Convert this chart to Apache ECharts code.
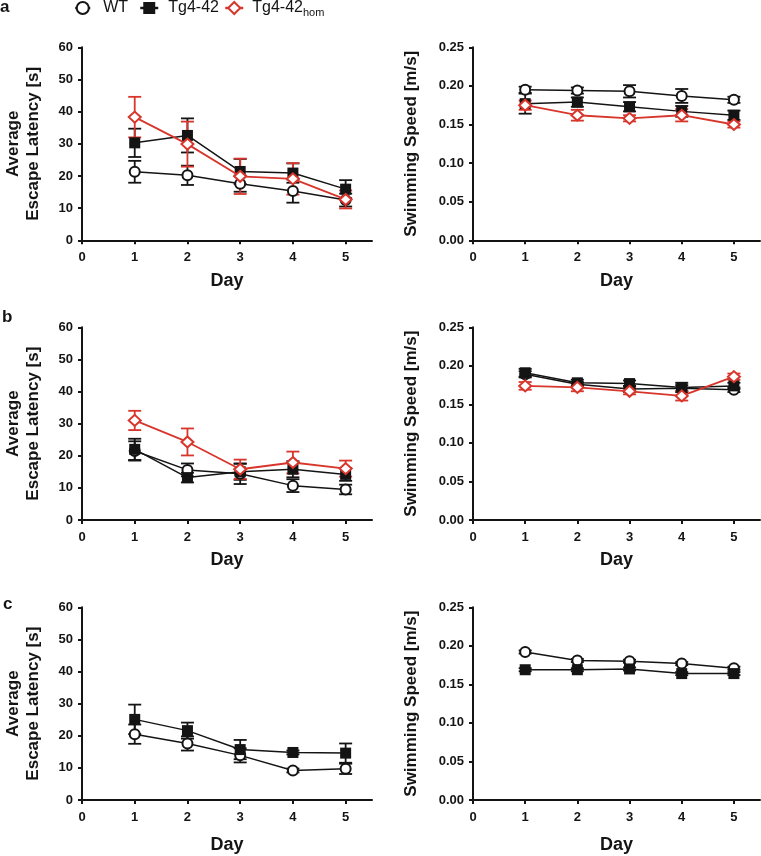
<!DOCTYPE html>
<html>
<head>
<meta charset="utf-8">
<script src="https://cdn.jsdelivr.net/npm/echarts@6/dist/echarts.min.js"></script>
<style>html,body{margin:0;padding:0;background:#fff;}#c{width:761px;height:856px;}</style>
</head>
<body>
<div id="c"></div>
<script>
// ---------- data ----------
const days = [1, 2, 3, 4, 5];
const xTicks = [0, 1, 2, 3, 4, 5];
const latTicks = [0, 10, 20, 30, 40, 50, 60];
const speedTicks = [0, 0.05, 0.10, 0.15, 0.20, 0.25];
const groupNames = ['WT', 'Tg4-42', 'Tg4-42hom'];

// panel a
const aLatWT = [21.3, 20.2, 17.6, 15.3, 12.5];
const aLatWTerr = [3.4, 3.0, 2.5, 3.6, 2.0];
const aLatTg = [30.3, 32.6, 21.4, 20.9, 15.9];
const aLatTgerr = [4.4, 5.3, 3.9, 3.0, 2.8];
const aLatHom = [38.3, 29.9, 19.9, 19.1, 12.7];
const aLatHomerr = [6.3, 7.0, 5.5, 4.9, 2.8];
const aSpdWT = [0.195, 0.194, 0.193, 0.187, 0.182];
const aSpdWTerr = [0.004, 0.004, 0.008, 0.009, 0.004];
const aSpdTg = [0.177, 0.179, 0.173, 0.167, 0.162];
const aSpdTgerr = [0.013, 0.006, 0.006, 0.007, 0.006];
const aSpdHom = [0.175, 0.162, 0.158, 0.162, 0.150];
const aSpdHomerr = [0.006, 0.007, 0.004, 0.008, 0.004];

// panel b
const bLatWT = [21.5, 15.6, 14.4, 10.7, 9.5];
const bLatWTerr = [3.0, 2.0, 3.2, 2.0, 1.5];
const bLatTg = [22.0, 13.2, 15.0, 15.8, 14.2];
const bLatTgerr = [3.3, 1.5, 2.5, 2.5, 2.0];
const bLatHom = [31.0, 24.3, 15.8, 17.9, 16.0];
const bLatHomerr = [3.0, 4.2, 3.0, 3.4, 2.5];
const bSpdWT = [0.189, 0.176, 0.170, 0.171, 0.169];
const bSpdWTerr = [0.004, 0.003, 0.004, 0.004, 0.003];
const bSpdTg = [0.191, 0.178, 0.177, 0.172, 0.174];
const bSpdTgerr = [0.005, 0.004, 0.004, 0.006, 0.004];
const bSpdHom = [0.174, 0.172, 0.167, 0.161, 0.186];
const bSpdHomerr = [0.005, 0.005, 0.004, 0.006, 0.004];

// panel c
const cLatWT = [20.5, 17.6, 13.9, 9.2, 9.7];
const cLatWTerr = [3.0, 2.2, 2.2, 0.6, 1.6];
const cLatTg = [25.1, 21.6, 15.7, 14.8, 14.6];
const cLatTgerr = [4.6, 2.5, 3.0, 0.6, 3.0];
const cSpdWT = [0.192, 0.181, 0.180, 0.177, 0.171];
const cSpdWTerr = [0.002, 0.002, 0.002, 0.002, 0.002];
const cSpdTg = [0.169, 0.169, 0.170, 0.164, 0.164];
const cSpdTgerr = [0.002, 0.002, 0.002, 0.002, 0.002];

// ---------- style ----------
const INK = '#141414';
const RED = '#d8362c';
const FONT = '"Liberation Sans", Arial, Helvetica, sans-serif';
const NARROW = '"Liberation Sans Narrow", "Arial Narrow", "Liberation Sans", Arial, sans-serif';

const gStyle = {
  'WT': { symbol: 'emptyCircle', size: 10, color: INK, lw: 1.5 },
  'Tg4-42': { symbol: 'rect', size: 11, color: INK, lw: 1.5 },
  'Tg4-42hom': { symbol: 'emptyDiamond', size: [12, 11], color: RED, lw: 1.8 }
};

const rowTop = [47.3, 327.3, 607.3];
const rowH = [193, 192.7, 192.7];
const colLeft = [82, 473];
const colW = [290, 287];
const dayGap = [32, 31, 36];

const panels = [
  { row: 0, col: 0, groups: [['WT', aLatWT, aLatWTerr], ['Tg4-42', aLatTg, aLatTgerr], ['Tg4-42hom', aLatHom, aLatHomerr]] },
  { row: 0, col: 1, groups: [['WT', aSpdWT, aSpdWTerr], ['Tg4-42', aSpdTg, aSpdTgerr], ['Tg4-42hom', aSpdHom, aSpdHomerr]] },
  { row: 1, col: 0, groups: [['WT', bLatWT, bLatWTerr], ['Tg4-42', bLatTg, bLatTgerr], ['Tg4-42hom', bLatHom, bLatHomerr]] },
  { row: 1, col: 1, groups: [['WT', bSpdWT, bSpdWTerr], ['Tg4-42', bSpdTg, bSpdTgerr], ['Tg4-42hom', bSpdHom, bSpdHomerr]] },
  { row: 2, col: 0, groups: [['WT', cLatWT, cLatWTerr], ['Tg4-42', cLatTg, cLatTgerr]] },
  { row: 2, col: 1, groups: [['WT', cSpdWT, cSpdWTerr], ['Tg4-42', cSpdTg, cSpdTgerr]] }
];

const grids = [], xAxes = [], yAxes = [], series = [];
const axisLineStyle = { color: INK, width: 2 };
const labelStyle = { color: INK, fontFamily: FONT, fontWeight: 'bold', fontSize: 13 };

panels.forEach((p, i) => {
  grids.push({ left: colLeft[p.col], top: rowTop[p.row], width: colW[p.col], height: rowH[p.row], containLabel: false });
  xAxes.push({
    type: 'value', gridIndex: i, min: 0, max: 5.5, interval: 1,
    name: 'Day', nameLocation: 'middle', nameGap: dayGap[p.row],
    nameTextStyle: { color: INK, fontFamily: FONT, fontWeight: 'bold', fontSize: 18 },
    axisLine: { show: true, onZero: false, lineStyle: axisLineStyle },
    axisTick: { show: true, length: 4, lineStyle: { color: INK, width: 2 }, customValues: xTicks },
    axisLabel: Object.assign({ margin: 11, customValues: xTicks }, labelStyle),
    splitLine: { show: false }
  });
  const isLat = p.col === 0;
  yAxes.push({
    type: 'value', gridIndex: i, min: 0, max: isLat ? 60 : 0.25, interval: isLat ? 10 : 0.05,
    name: isLat ? 'Average\nEscape Latency [s]' : 'Swimming Speed [m/s]',
    nameLocation: 'middle', nameRotate: 90, nameGap: isLat ? 39 : 52,
    nameTextStyle: { color: INK, fontFamily: FONT, fontWeight: 'bold', fontSize: 17, lineHeight: 20 },
    axisLine: { show: true, onZero: false, lineStyle: axisLineStyle },
    axisTick: { show: true, length: 4, lineStyle: { color: INK, width: 2 }, customValues: isLat ? latTicks : speedTicks },
    axisLabel: Object.assign({
      margin: 9, customValues: isLat ? latTicks : speedTicks,
      formatter: v => isLat ? String(v) : v.toFixed(2)
    }, labelStyle),
    splitLine: { show: false }
  });
  p.groups.forEach((g, k) => {
    const [name, mean, err] = g;
    const s = gStyle[name];
    series.push({
      type: 'custom', name: name + ' SEM', xAxisIndex: i, yAxisIndex: i, z: 1, silent: true,
      data: days.map((d, j) => [d, mean[j] - err[j], mean[j] + err[j]]),
      encode: { x: 0, y: [1, 2] },
      renderItem: (params, api) => {
        const x = api.value(0), lo = api.value(1), hi = api.value(2);
        const t = api.coord([x, hi]), b = api.coord([x, lo]);
        const w = 6.5;
        const st = { stroke: s.color, lineWidth: 1.8 };
        return {
          type: 'group', children: [
            { type: 'line', shape: { x1: t[0], y1: t[1], x2: b[0], y2: b[1] }, style: st },
            { type: 'line', shape: { x1: t[0] - w, y1: t[1], x2: t[0] + w, y2: t[1] }, style: st },
            { type: 'line', shape: { x1: b[0] - w, y1: b[1], x2: b[0] + w, y2: b[1] }, style: st }
          ]
        };
      }
    });
    series.push({
      type: 'line', name: name, xAxisIndex: i, yAxisIndex: i, z: 3 + k,
      data: days.map((d, j) => [d, mean[j]]),
      symbol: s.symbol, symbolSize: s.size, showAllSymbol: true,
      lineStyle: { color: s.color, width: s.lw },
      itemStyle: { color: s.color },
      emphasis: { disabled: true }
    });
  });
});

const legendText = { color: INK, fontFamily: NARROW, fontSize: 16 };
const legends = [
  { data: ['WT'], left: 74, itemWidth: 15, padding: [0, 0, 0, 8] },
  { data: ['Tg4-42'], left: 139, itemWidth: 18, padding: [0, 0, 0, 5] },
  { data: ['Tg4-42hom'], left: 224, itemWidth: 18, padding: [0, 0, 0, 4] }
].map(l => ({
  data: l.data, left: l.left, top: 0, itemWidth: l.itemWidth, itemHeight: 15, padding: 0,
  selectedMode: false, icon: undefined,
  lineStyle: { width: 2.5 },
  formatter: n => n === 'Tg4-42hom' ? '{m|Tg4-42}{s|hom}' : n,
  textStyle: Object.assign({}, legendText, {
    padding: l.padding,
    rich: {
      m: { fontFamily: NARROW, fontSize: 16, color: INK },
      s: { fontFamily: NARROW, fontSize: 11, color: INK, padding: [9, 0, 0, 0] }
    }
  })
}));

const letterStyle = { fill: INK, fontFamily: FONT, fontWeight: 'bold', fontSize: 17 };
const chart = echarts.init(document.getElementById('c'), null, { renderer: 'canvas' });
chart.setOption({
  animation: false,
  backgroundColor: '#fff',
  legend: legends,
  grid: grids,
  xAxis: xAxes,
  yAxis: yAxes,
  series: series,
  graphic: [
    { type: 'text', x: 0, y: 7, style: Object.assign({ text: 'a', verticalAlign: 'middle' }, letterStyle) },
    { type: 'text', x: 2, y: 317, style: Object.assign({ text: 'b', verticalAlign: 'middle' }, letterStyle) },
    { type: 'text', x: 3, y: 604, style: Object.assign({ text: 'c', verticalAlign: 'middle' }, letterStyle) }
  ]
});
</script>
</body>
</html>
